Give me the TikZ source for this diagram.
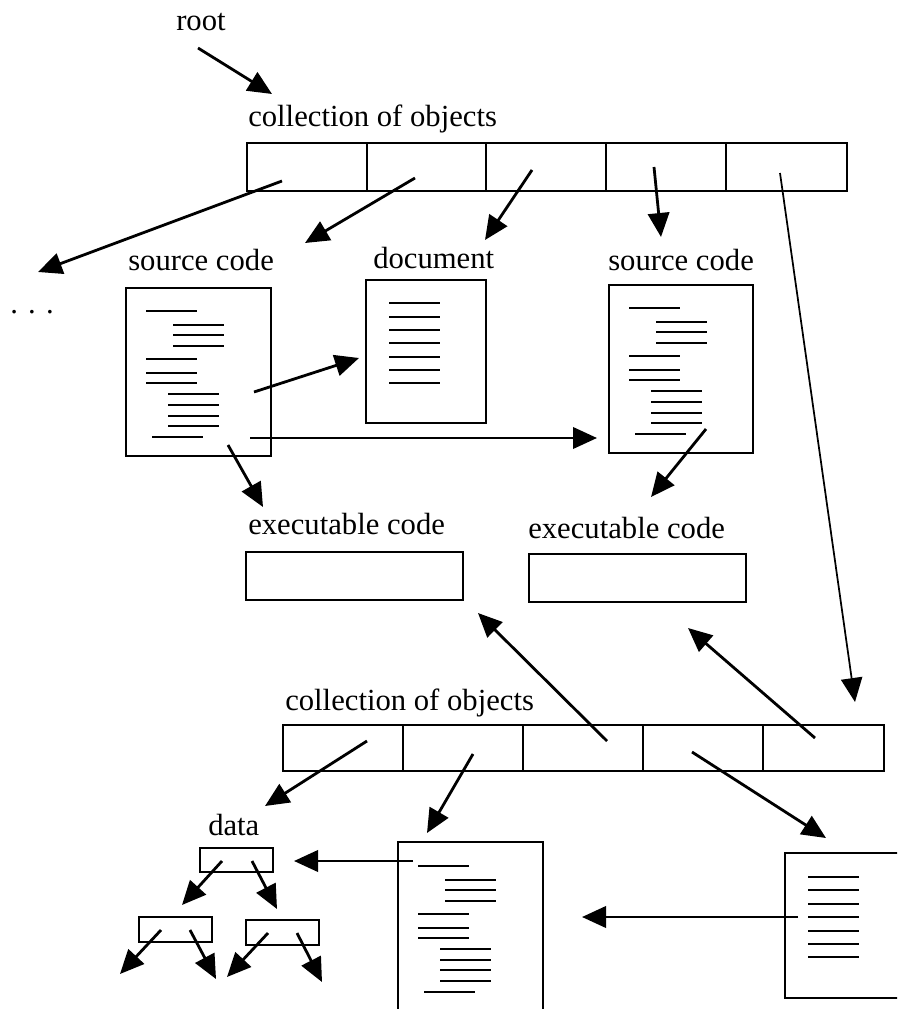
\documentclass[tikz,border=0pt]{standalone}
\usepackage{fontspec}
\setmainfont{Liberation Serif}
\usetikzlibrary{arrows.meta}

\begin{document}
\begin{tikzpicture}[x=0.75pt,y=-0.75pt,>={Triangle[length=18pt,width=16pt]},line join=miter,
  arr/.style={->,line width=2.1pt},
  longarr/.style={->,line width=1.3pt},
  frame/.style={draw,line width=1.3pt},
  codeline/.style={line width=1.9pt},
  lbl/.style={anchor=base west,inner sep=0pt,font=\fontsize{23}{27}\selectfont}]
\useasboundingbox (0,0) rectangle (897,1009);
\clip (0,0) rectangle (897,1009);
% labels
\node[lbl] (root) at (176,31) {root};
\node[lbl] (coll1) at (248,127) {collection of objects};
\node[lbl] (dots) at (10,313) {. . .};
\node[lbl] (srcL) at (128,270) {source code};
\node[lbl] (doc) at (373,268) {document};
\node[lbl] (srcR) at (608,270) {source code};
\node[lbl] (exL) at (248,534) {executable code};
\node[lbl] (exR) at (528,538) {executable code};
\node[lbl] (coll2) at (285,710) {collection of objects};
\node[lbl] (data) at (208,835) {data};
% top collection
\draw[frame] (247,143) rectangle (847,191) (367,143) -- (367,191) (486,143) -- (486,191)
  (606,143) -- (606,191) (726,143) -- (726,191);
% source code, left
\begin{scope}[shift={(126,288)}]
\draw[frame] (0,0) rectangle (145,168);
\draw[codeline] (20,23) -- (71,23) (47,37) -- (98,37) (47,47) -- (98,47) (47,58) -- (98,58)
  (20,71) -- (71,71) (20,85) -- (71,85) (20,95) -- (71,95)
  (42,106) -- (93,106) (42,117) -- (93,117) (42,128) -- (93,128) (42,138) -- (93,138)
  (26,149) -- (77,149);
\end{scope}
% document
\begin{scope}[shift={(366,280)}]
\draw[frame] (0,0) rectangle (120,143);
\draw[codeline] (23,23) -- (74,23) (23,37) -- (74,37) (23,50) -- (74,50) (23,63) -- (74,63)
  (23,77) -- (74,77) (23,90) -- (74,90) (23,103) -- (74,103);
\end{scope}
% source code, right
\begin{scope}[shift={(609,285)}]
\draw[frame] (0,0) rectangle (144,168);
\draw[codeline] (20,23) -- (71,23) (47,37) -- (98,37) (47,47) -- (98,47) (47,58) -- (98,58)
  (20,71) -- (71,71) (20,85) -- (71,85) (20,95) -- (71,95)
  (42,106) -- (93,106) (42,117) -- (93,117) (42,128) -- (93,128) (42,138) -- (93,138)
  (26,149) -- (77,149);
\end{scope}
% executable code
\draw[frame] (246,552) rectangle (463,600);
\draw[frame] (529,554) rectangle (746,602);
% bottom collection
\draw[frame] (283,725) rectangle (884,771) (403,725) -- (403,771) (523,725) -- (523,771)
  (643,725) -- (643,771) (763,725) -- (763,771);
% source code, bottom
\begin{scope}[shift={(398,842)}]
\draw[frame] (0,0) rectangle (145,168);
\draw[codeline] (20,24) -- (71,24) (47,38) -- (98,38) (47,48) -- (98,48) (47,59) -- (98,59)
  (20,72) -- (71,72) (20,86) -- (71,86) (20,96) -- (71,96)
  (42,107) -- (93,107) (42,118) -- (93,118) (42,128) -- (93,128) (42,139) -- (93,139)
  (26,150) -- (77,150);
\end{scope}
% document, bottom right
\begin{scope}[shift={(785,853)}]
\draw[frame] (0,0) rectangle (120,145);
\draw[codeline] (23,24) -- (74,24) (23,37) -- (74,37) (23,51) -- (74,51) (23,64) -- (74,64)
  (23,78) -- (74,78) (23,91) -- (74,91) (23,104) -- (74,104);
\end{scope}
% data tree
\draw[frame] (200,848) rectangle (273,872);
\draw[frame] (139,917) rectangle (212,942);
\draw[frame] (246,920) rectangle (319,945);
% arrow ends
\coordinate (rootS) at (198,48);
\coordinate (rootE) at (272,94);
\coordinate (t1s) at (282,181);
\coordinate (more) at (38,272);
\coordinate (t2s) at (415,178);
\coordinate (srcLin) at (305,243);
\coordinate (t3s) at (532,170);
\coordinate (docin) at (485,240);
\coordinate (t4s) at (654,167);
\coordinate (srcRin) at (661,237);
\coordinate (t5s) at (780,173);
\coordinate (botin) at (855,702);
\coordinate (sL1) at (254,392);
\coordinate (docE) at (359,358);
\coordinate (sL2) at (250,438);
\coordinate (srcRE) at (597,438);
\coordinate (sL3) at (228,445);
\coordinate (exLin) at (263,507);
\coordinate (sR1) at (706,429);
\coordinate (exRin) at (651,497);
\coordinate (b1s) at (367,741);
\coordinate (datain) at (265,806);
\coordinate (b2s) at (473,754);
\coordinate (codeBin) at (427,833);
\coordinate (b3s) at (607,741);
\coordinate (exLup) at (478,613);
\coordinate (b4s) at (692,752);
\coordinate (docBin) at (826,838);
\coordinate (b5s) at (815,738);
\coordinate (exRup) at (688,628);
\coordinate (docBs) at (798,917);
\coordinate (codeBE) at (582,917);
\coordinate (codeBs) at (413,861);
\coordinate (dataE) at (294,861);
\coordinate (d0l) at (222,861);
\coordinate (d1in) at (182,905);
\coordinate (d0r) at (252,861);
\coordinate (d2in) at (277,909);
\coordinate (d1l) at (161,930);
\coordinate (x1) at (120,974);
\coordinate (d1r) at (190,930);
\coordinate (x2) at (216,979);
\coordinate (d2l) at (268,933);
\coordinate (x3) at (227,977);
\coordinate (d2r) at (297,933);
\coordinate (x4) at (322,982);
% arrows
\draw[arr] (rootS) -- (rootE);
\draw[arr] (t1s) -- (more);
\draw[arr] (t2s) -- (srcLin);
\draw[arr] (t3s) -- (docin);
\draw[arr] (t4s) -- (srcRin);
\draw[longarr] (t5s) -- (botin);
\draw[arr] (sL1) -- (docE);
\draw[arr] (sL2) -- (srcRE);
\draw[arr] (sL3) -- (exLin);
\draw[arr] (sR1) -- (exRin);
\draw[arr] (b1s) -- (datain);
\draw[arr] (b2s) -- (codeBin);
\draw[arr] (b3s) -- (exLup);
\draw[arr] (b4s) -- (docBin);
\draw[arr] (b5s) -- (exRup);
\draw[arr] (docBs) -- (codeBE);
\draw[arr] (codeBs) -- (dataE);
\draw[arr] (d0l) -- (d1in);
\draw[arr] (d0r) -- (d2in);
\draw[arr] (d1l) -- (x1);
\draw[arr] (d1r) -- (x2);
\draw[arr] (d2l) -- (x3);
\draw[arr] (d2r) -- (x4);
\end{tikzpicture}
\end{document}
